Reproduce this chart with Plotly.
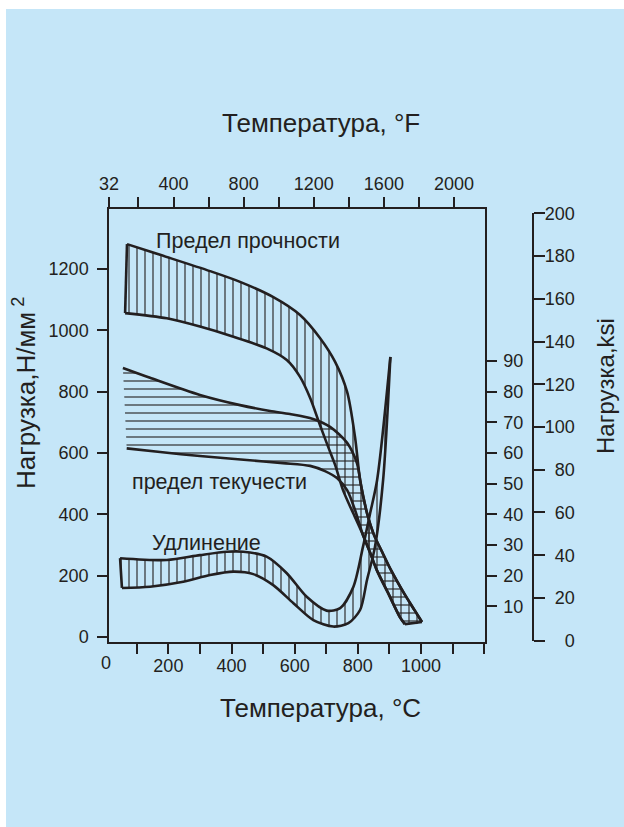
import plotly.graph_objects as go

# ---------------- data ----------------
# Предел прочности (tensile strength), N/mm^2 vs °C
tens_up_t = [69, 174, 332, 427, 531, 617, 680, 728, 766, 791, 807, 829, 851, 877, 905, 946, 981, 1003]
tens_up_v = [1281, 1246, 1193, 1158, 1109, 1050, 975, 897, 799, 652, 512, 404, 333, 277, 218, 143, 85, 49]
tens_lo_t = [63, 195, 300, 406, 511, 575, 617, 649, 680, 706, 728, 753, 785, 816, 838, 860, 896, 933, 949]
tens_lo_v = [1056, 1039, 1012, 979, 941, 903, 848, 779, 691, 620, 561, 479, 404, 333, 277, 218, 143, 65, 42]

# предел текучести (yield strength), N/mm^2 vs °C
yld_up_t = [56, 142, 300, 427, 522, 585, 658, 712, 766, 797, 811, 829, 851, 877, 905, 946, 981, 1003]
yld_up_v = [877, 845, 789, 756, 737, 727, 711, 685, 633, 567, 490, 404, 333, 277, 218, 143, 85, 49]
yld_lo_t = [68, 174, 300, 448, 563, 649, 696, 734, 766, 791, 816, 838, 860, 896, 933, 949]
yld_lo_v = [615, 603, 590, 577, 567, 558, 541, 518, 479, 414, 333, 277, 218, 143, 65, 42]

# Удлинение (elongation), % vs °C
elo_up_t = [47, 195, 300, 385, 437, 511, 575, 638, 701, 744, 786, 816, 839, 861, 903]
elo_up_v = [25.7, 25.1, 26.7, 27.8, 27.8, 26.2, 20.8, 13.1, 8.6, 9.4, 16.4, 29.3, 40.4, 51.2, 91.3]
elo_lo_t = [53, 142, 247, 332, 406, 469, 532, 596, 659, 722, 770, 807, 829, 854, 880, 903]
elo_lo_v = [16.0, 16.4, 18.0, 20.2, 21.3, 20.5, 16.9, 11.0, 5.5, 3.4, 4.5, 8.8, 18.6, 29.3, 51.2, 91.3]

# axes ticks
c_ticks = [100, 200, 300, 400, 500, 600, 700, 800, 900, 1000, 1100, 1200]
c_text = ['', '200', '', '400', '', '600', '', '800', '', '1000', '', '']
f_ticks = [32, 200, 400, 600, 800, 1000, 1200, 1400, 1600, 1800, 2000]
f_text = ['32', '', '400', '', '800', '', '1200', '', '1600', '', '2000']
n_ticks = [0, 200, 400, 600, 800, 1000, 1200]
pct_ticks = [10, 20, 30, 40, 50, 60, 70, 80, 90]
ksi_ticks = [0, 20, 40, 60, 80, 100, 120, 140, 160, 180, 200]
ksi_text = ['\u2007\u20070', '\u200720', '\u200740', '\u200760', '\u200780',
            '100', '120', '140', '160', '180', '200']

# ---------------- style ----------------
INK = '#231F20'
BG = '#C5E6F8'
FONT = 'Liberation Sans, Arial, sans-serif'
W, H = 624, 827
ML, MR, MT, MB = 109, 30, 209, 185
PW, PH = W - ML - MR, H - MT - MB
XDOM = 376 / PW


def px(x):
    return (x - ML) / PW


def py(y):
    return (H - MB - y) / PH


fig = go.Figure()


def band(xs_up, ys_up, xs_lo, ys_lo, shape, yaxis='y'):
    fig.add_trace(go.Scatter(
        x=list(xs_up) + list(xs_lo)[::-1], y=list(ys_up) + list(ys_lo)[::-1],
        mode='lines', fill='toself', fillcolor='rgba(0,0,0,0)',
        line=dict(width=0, shape='spline', smoothing=0.8),
        fillpattern=dict(shape=shape, size=8, solidity=0.14, fgcolor=INK,
                         bgcolor='rgba(0,0,0,0)', fgopacity=1),
        yaxis=yaxis, hoverinfo='skip', showlegend=False))


def curve(xs, ys, yaxis='y', shape='spline'):
    fig.add_trace(go.Scatter(
        x=xs, y=ys, mode='lines', yaxis=yaxis,
        line=dict(color=INK, width=2.6, shape=shape, smoothing=0.8),
        hoverinfo='skip', showlegend=False))


# hatched bands
band(yld_up_t, yld_up_v, yld_lo_t, yld_lo_v, '-')
band(tens_up_t, tens_up_v, tens_lo_t, tens_lo_v, '|')
band(elo_up_t, elo_up_v, elo_lo_t, elo_lo_v, '|', yaxis='y2')

# outlines
curve(tens_up_t, tens_up_v)
curve(tens_lo_t, tens_lo_v)
curve([tens_lo_t[0], tens_up_t[0]], [tens_lo_v[0], tens_up_v[0]], shape='linear')
curve([tens_lo_t[-1], tens_up_t[-1]], [tens_lo_v[-1], tens_up_v[-1]], shape='linear')
curve(yld_up_t, yld_up_v)
curve(yld_lo_t, yld_lo_v)
curve(elo_up_t, elo_up_v, yaxis='y2')
curve(elo_lo_t, elo_lo_v, yaxis='y2')
curve([elo_lo_t[0], elo_up_t[0]], [elo_lo_v[0], elo_up_v[0]], yaxis='y2', shape='linear')

# carriers for the °F and ksi scales
fig.add_trace(go.Scatter(x=[f_ticks[0]], y=[n_ticks[0]], xaxis='x2', yaxis='y',
                         mode='markers', marker=dict(opacity=0), hoverinfo='skip', showlegend=False))
fig.add_trace(go.Scatter(x=[c_ticks[0]], y=[ksi_ticks[0]], xaxis='x', yaxis='y3',
                         mode='markers', marker=dict(opacity=0), hoverinfo='skip', showlegend=False))

tickfont = dict(family=FONT, size=18, color=INK)
axcommon = dict(showgrid=False, zeroline=False, showline=True, linecolor=INK, linewidth=1.5,
                ticks='outside', tickcolor=INK, tickwidth=1.5, ticklen=10, tickfont=tickfont,
                fixedrange=True)

fig.update_layout(
    width=W, height=H, margin=dict(l=ML, r=MR, t=MT, b=MB),
    paper_bgcolor='white', plot_bgcolor='rgba(0,0,0,0)',
    font=dict(family=FONT, color=INK),
    xaxis=dict(domain=[0, XDOM], range=[12, 1202.6], tickmode='array',
               tickvals=c_ticks, ticktext=c_text, anchor='y', ticklabelstandoff=-3, **axcommon),
    xaxis2=dict(domain=[0, XDOM], range=[32, 2176.9], overlaying='x', side='top', anchor='y',
                tickmode='array', tickvals=f_ticks, ticktext=f_text, **axcommon),
    yaxis=dict(range=[-16.3, 1395.5], tickmode='array', tickvals=n_ticks, anchor='x',
               ticklabelstandoff=5, **axcommon),
    yaxis2=dict(range=[-1.63, 139.55], overlaying='y', side='right', anchor='x',
                tickmode='array', tickvals=pct_ticks, ticklabelstandoff=3, **axcommon),
    yaxis3=dict(domain=[0.003, 0.990], range=[0, 200], side='right', anchor='free',
                position=px(533.3), tickmode='array', tickvals=ksi_ticks, ticktext=ksi_text,
                ticklabelstandoff=-4, **{**axcommon, 'ticklen': 11}),
)

# blue panel
fig.add_shape(type='rect', xref='paper', yref='paper', x0=px(6), x1=px(W), y0=py(H), y1=py(9),
              fillcolor=BG, line=dict(width=0), layer='below')

ann = []
ann.append(dict(text='Температура, °F', x=px(320.8), y=py(122.5), font=dict(size=26)))
ann.append(dict(text='Температура, °C', x=px(320.8), y=py(707.5), font=dict(size=26)))
ann.append(dict(text='Нагрузка,Н/мм<sup> 2</sup>', x=px(24), y=py(393), textangle=-90, font=dict(size=26)))
ann.append(dict(text='Нагрузка,ksi', x=px(605), y=py(386), textangle=-90, font=dict(size=24)))
ann.append(dict(text='0', x=px(105.5), y=py(663), font=dict(size=18)))
for a in ann:
    a.update(xref='paper', yref='paper', showarrow=False, xanchor='center', yanchor='middle')
    a['font'].update(family=FONT, color=INK)
    fig.add_annotation(**a)

labels = [('Предел прочности', 153, 1291), ('предел текучести', 78, 507), ('Удлинение', 142, 308)]
for txt, lx, ly in labels:
    fig.add_annotation(text=txt, x=lx, y=ly, xref='x', yref='y', showarrow=False,
                       xanchor='left', yanchor='middle', font=dict(family=FONT, size=21.5, color=INK))

fig.write_html('out.html')
